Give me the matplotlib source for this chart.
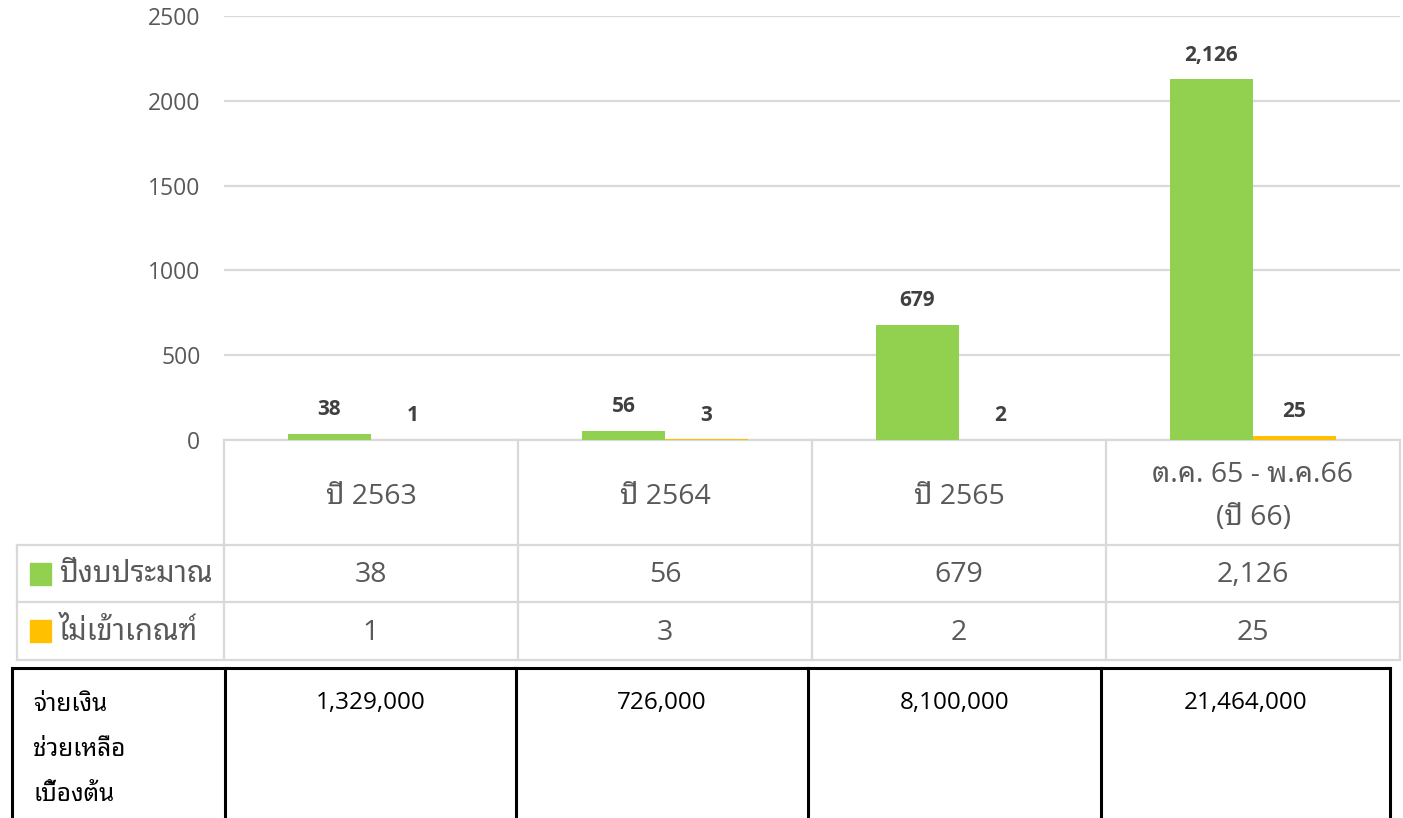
import matplotlib
matplotlib.use("Agg")
import matplotlib.pyplot as plt
import numpy as np
from matplotlib import transforms
from matplotlib.patches import Rectangle

# ---------------- data ----------------
categories = ["ปี 2563", "ปี 2564", "ปี 2565", "ต.ค. 65 - พ.ค.66\n(ปี 66)"]
series_names = ["ปีงบประมาณ", "ไม่เข้าเกณฑ์"]
budget_year = [38, 56, 679, 2126]
not_eligible = [1, 3, 2, 25]
payment_label = ["จ่ายเงิน", "ช่วยเหลือ", "เบื้องต้น"]
payments = [1329000, 726000, 8100000, 21464000]
yticks = [0, 500, 1000, 1500, 2000, 2500]

GREEN = "#92D050"
ORANGE = "#FFC000"
GRID = "#D9D9D9"
TXT = "#595959"
LBL = "#404040"

FONT = ["Open Sans", "Noto Sans Thai Looped", "DejaVu Sans"]
plt.rcParams["font.family"] = FONT

W, H = 1403, 818
fig = plt.figure(figsize=(W / 100, H / 100), dpi=100)

def fx(p):
    return p / W

def fy(p):
    return 1 - p / H

# ---------------- chart ----------------
ax_l, ax_r, ax_t, ax_b = 224, 1400, 16, 440
ax = fig.add_axes([fx(ax_l), fy(ax_b), fx(ax_r - ax_l), fy(ax_t) - fy(ax_b)])
x = np.arange(len(categories))
bw = 0.283
b1 = ax.bar(x - bw / 2, budget_year, bw, color=GREEN, zorder=3)
b2 = ax.bar(x + bw / 2, not_eligible, bw, color=ORANGE, zorder=3)
ax.set_xlim(-0.5, len(categories) - 0.5)
ax.set_ylim(0, 2500)
ax.set_yticks(yticks)
ax.set_yticklabels([str(t) for t in yticks])
ax.tick_params(axis="y", length=0, pad=17, labelsize=16.5, labelcolor=TXT)
ax.tick_params(axis="x", length=0, labelbottom=False)
ax.grid(axis="y", color=GRID, lw=1.6, zorder=0)
for s in ["top", "right", "left"]:
    ax.spines[s].set_visible(False)
ax.spines["bottom"].set_color(GRID)
ax.spines["bottom"].set_linewidth(1.6)

for bars in (b1, b2):
    for r in bars:
        v = r.get_height()
        ax.annotate(f"{int(v):,}", (r.get_x() + r.get_width() / 2, v),
                    xytext=(0, 17.5), textcoords="offset points",
                    ha="center", va="center", fontsize=15, fontweight="bold",
                    color=LBL)

# ---------------- data table under the chart ----------------
tr = transforms.blended_transform_factory(ax.transData, fig.transFigure)
edges = np.arange(len(categories) + 1) - 0.5
row_y = [440, 545, 602, 660]
leg_left = 17
lw_t = 1.6

for yy in row_y[1:]:
    fig.add_artist(plt.Line2D([fx(leg_left), fx(ax_r - 2)], [fy(yy), fy(yy)],
                              color=GRID, lw=lw_t))
for e in edges:
    fig.add_artist(plt.Line2D([e, e], [fy(row_y[0]), fy(row_y[-1])],
                              color=GRID, lw=lw_t, transform=tr))
fig.add_artist(plt.Line2D([fx(leg_left), fx(leg_left)], [fy(row_y[1]), fy(row_y[-1])],
                          color=GRID, lw=lw_t))

for i, c in enumerate(categories):
    fig.text(i, fy((row_y[0] + row_y[1]) / 2 + 4), c, transform=tr, ha="center",
             va="center", fontsize=20.5, color=TXT, linespacing=1.7)

for r, (name, vals, col) in enumerate(zip(series_names,
                                          [budget_year, not_eligible],
                                          [GREEN, ORANGE])):
    yc = (row_y[r + 1] + row_y[r + 2]) / 2
    fig.add_artist(Rectangle((fx(30), fy(yc + 11)), fx(21), fy(0) - fy(22),
                             transform=fig.transFigure, color=col))
    fig.text(fx(59), fy(yc + 1), name, ha="left", va="center", fontsize=21,
             color=TXT)
    for i, v in enumerate(vals):
        fig.text(i, fy(yc + 2), f"{v:,}", transform=tr, ha="center",
                 va="center", fontsize=20.5, color=TXT)

# ---------------- lower payment table ----------------
col_x = [12, 225, 516, 808, 1101, 1390]
top = 668
for xx in col_x:
    fig.add_artist(plt.Line2D([fx(xx), fx(xx)], [fy(top), fy(H + 5)],
                              color="black", lw=2.2))
fig.add_artist(plt.Line2D([fx(col_x[0]), fx(col_x[-1])], [fy(top), fy(top)],
                          color="black", lw=2.2))
for k, line in enumerate(payment_label):
    fig.text(fx(33), fy(705 + 45 * k), line, ha="left", va="center",
             fontsize=17.5, color="black", fontweight="medium")
for i, v in enumerate(payments):
    xc = (col_x[i + 1] + col_x[i + 2]) / 2
    fig.text(fx(xc), fy(703), f"{v:,}", ha="center", va="center", fontsize=17.5,
             color="black", fontweight="medium")

fig.savefig("out.png", dpi=100)
